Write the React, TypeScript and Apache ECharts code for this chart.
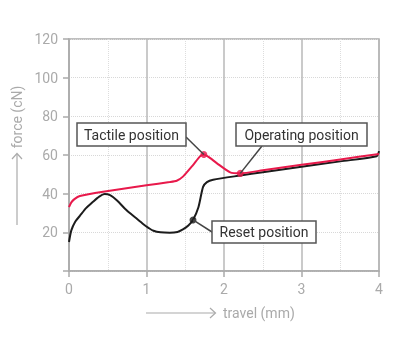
import React, { useEffect, useRef } from 'react';
import * as echarts from 'echarts';

const travelBlack = [0, 0.03, 0.08, 0.14, 0.22, 0.31, 0.39, 0.46, 0.53, 0.62, 0.74, 0.86, 0.96, 1.03, 1.09, 1.18, 1.3, 1.4, 1.47, 1.54, 1.6, 1.67, 1.73, 1.78, 1.86, 2.21, 2.5, 3, 3.5, 3.97, 4.0];
const forceBlack = [15, 21, 25.5, 28.5, 32.5, 35.8, 38.5, 39.8, 39.2, 36.5, 31.5, 27.5, 24.2, 22.2, 20.8, 20, 19.8, 20.2, 21.5, 23.5, 26.4, 33, 43.5, 46, 47.2, 49.4, 51.1, 53.9, 56.7, 59.4, 62];

const travelRed = [0, 0.03, 0.07, 0.14, 0.44, 1.0, 1.3, 1.39, 1.47, 1.6, 1.69, 1.74, 1.8, 1.91, 2.08, 2.21, 2.5, 3, 3.5, 4];
const forceRed = [33, 35.5, 37.2, 38.8, 41, 44.3, 46.0, 46.7, 48.8, 54.8, 59.3, 60.3, 59, 55.7, 51, 50.5, 52.1, 54.9, 57.7, 60.5];

const tactilePoint = [1.74, 60.3];
const operatingPoint = [2.21, 50.5];
const resetPoint = [1.6, 26.4];

const labelTactile = 'Tactile position';
const labelOperating = 'Operating position';
const labelReset = 'Reset position';
const xName = 'travel (mm)';
const yName = 'force (cN)';

const RED = '#e8194b';
const BLACK = '#1c1c1c';
const AXIS = '#aaaaaa';
const FONT = 'Roboto';

export default function App() {
  const ref = useRef<HTMLDivElement>(null);
  useEffect(() => {
    const chart = echarts.init(ref.current!, null, { renderer: 'svg' });
    const zip = (xs: number[], ys: number[]) => xs.map((x, i) => [x, ys[i]]);
    chart.setOption({
      animation: false,
      grid: { left: 69, right: 28, top: 39, bottom: 84, show: true, borderColor: AXIS, borderWidth: 1.5 },
      xAxis: {
        type: 'value', min: 0, max: 4, interval: 1,
        axisLine: { show: true, lineStyle: { color: AXIS, width: 1.5 } },
        axisTick: { show: true, length: 6, lineStyle: { color: AXIS, width: 1.5 } },
        axisLabel: { color: AXIS, fontSize: 14, fontFamily: FONT, margin: 11 },
        splitLine: { show: true, lineStyle: { color: '#b8b8b8', width: 1.5 } },
        minorTick: { show: false, splitNumber: 2 },
        minorSplitLine: { show: true, lineStyle: { color: '#dddddd', width: 1, type: 'dotted' } },
      },
      yAxis: {
        type: 'value', min: 0, max: 120, interval: 20,
        axisLine: { show: true, lineStyle: { color: AXIS, width: 1.5 } },
        axisTick: { show: true, length: 6, lineStyle: { color: AXIS, width: 1.5 } },
        axisLabel: { color: AXIS, fontSize: 14, fontFamily: FONT, margin: 11, formatter: (v: number) => (v === 0 ? '' : String(v)) },
        splitLine: { show: true, lineStyle: { color: '#d8d8d8', width: 1, type: 'dotted' } },
      },
      series: [
        { type: 'line', data: zip(travelBlack, forceBlack), smooth: 0.25, showSymbol: false, lineStyle: { color: BLACK, width: 2 }, z: 2 },
        { type: 'line', data: zip(travelRed, forceRed), smooth: 0.2, showSymbol: false, lineStyle: { color: RED, width: 2 }, z: 3 },
        { type: 'scatter', data: [tactilePoint, operatingPoint], symbolSize: 7, itemStyle: { color: RED }, z: 4 },
        { type: 'scatter', data: [resetPoint], symbolSize: 7, itemStyle: { color: BLACK }, z: 4 },
      ],
    });
    const p = (pt: number[]) => chart.convertToPixel({ gridIndex: 0 }, pt) as number[];
    const t = p(tactilePoint), o = p(operatingPoint), r = p(resetPoint);
    const lineStyle = { stroke: '#444', lineWidth: 1.5 };
    const box = (x: number, y: number, w: number, h: number, text: string) => ([
      { type: 'rect', z: 100, shape: { x, y, width: w, height: h }, style: { fill: '#fff', stroke: '#555', lineWidth: 1.5 } },
      { type: 'text', z: 101, x: x + w / 2, y: y + h / 2, style: { text, fill: '#333', fontSize: 14, fontFamily: FONT, align: 'center', verticalAlign: 'middle' } },
    ]);
    chart.setOption({
      graphic: [
        { type: 'line', z: 99, shape: { x1: 186, y1: 137, x2: t[0], y2: t[1] }, style: lineStyle },
        { type: 'line', z: 99, shape: { x1: 262, y1: 146, x2: o[0], y2: o[1] }, style: lineStyle },
        { type: 'line', z: 99, shape: { x1: r[0], y1: r[1], x2: 212, y2: 232 }, style: lineStyle },
        ...box(77, 123, 109, 23, labelTactile),
        ...box(236, 123, 131, 23, labelOperating),
        ...box(212, 221, 104, 22, labelReset),
        { type: 'line', shape: { x1: 146, y1: 313, x2: 215, y2: 313 }, style: { stroke: AXIS, lineWidth: 1.2 } },
        { type: 'polyline', shape: { points: [[210, 308], [215.5, 313], [210, 318]] }, style: { stroke: AXIS, lineWidth: 1.2, fill: 'none' } },
        { type: 'text', x: 223, y: 313, style: { text: xName, fill: AXIS, fontSize: 14, fontFamily: FONT, align: 'left', verticalAlign: 'middle' } },
        { type: 'line', shape: { x1: 17, y1: 225, x2: 17, y2: 154 }, style: { stroke: AXIS, lineWidth: 1.2 } },
        { type: 'polyline', shape: { points: [[12, 159], [17, 153.5], [22, 159]] }, style: { stroke: AXIS, lineWidth: 1.2, fill: 'none' } },
        { type: 'text', x: 17, y: 117, rotation: Math.PI / 2, style: { text: yName, fill: AXIS, fontSize: 14, fontFamily: FONT, align: 'center', verticalAlign: 'middle' } },
      ],
    });
    return () => chart.dispose();
  }, []);
  return <div ref={ref} style={{ position: 'fixed', left: 0, top: 0, width: 407, height: 355 }} />;
}
